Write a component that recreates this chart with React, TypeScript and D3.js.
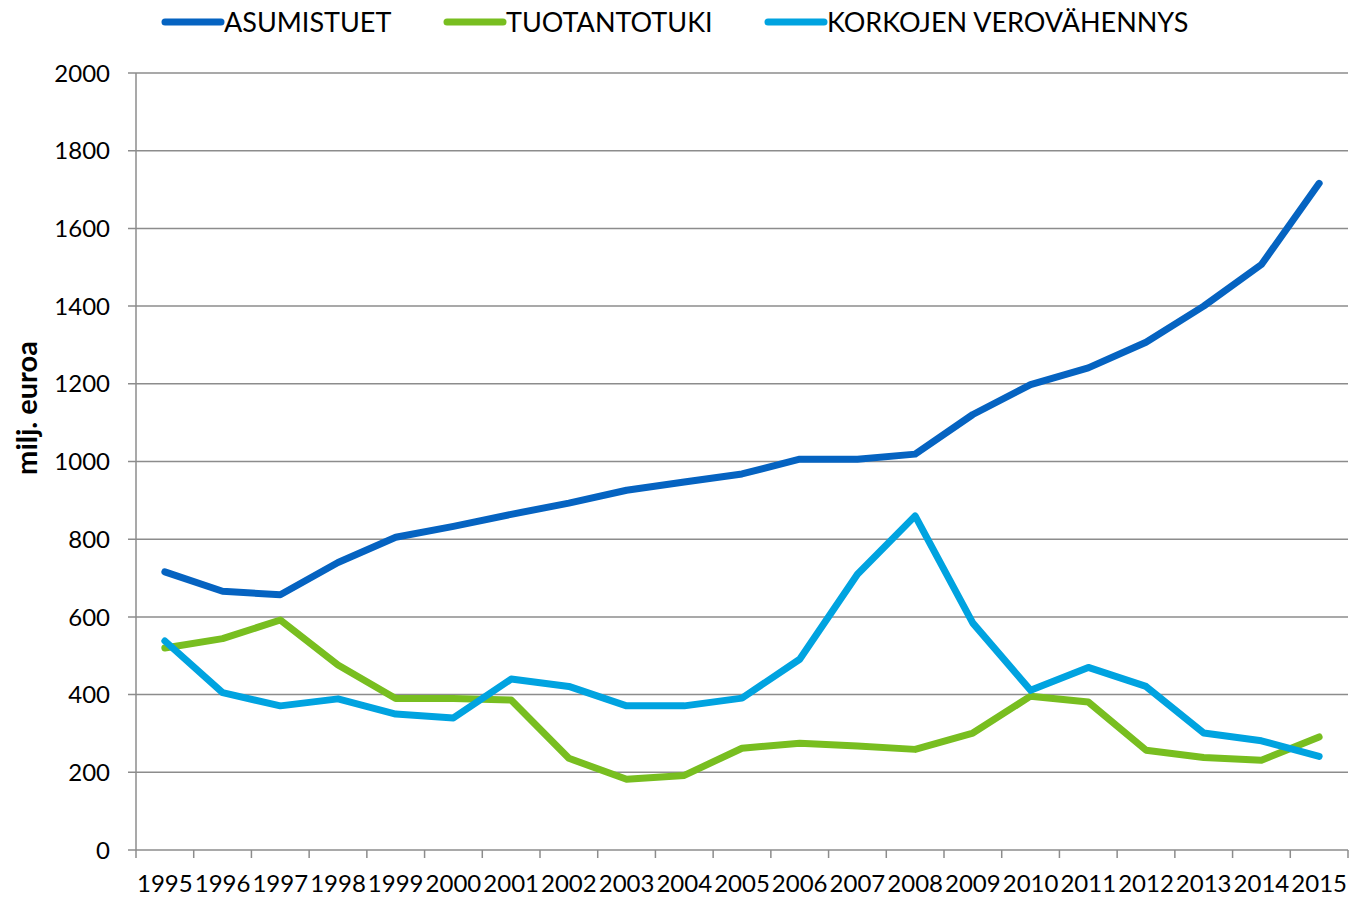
import React from 'react';
import * as d3 from 'd3';

const years = ['1995', '1996', '1997', '1998', '1999', '2000', '2001', '2002', '2003', '2004', '2005',
  '2006', '2007', '2008', '2009', '2010', '2011', '2012', '2013', '2014', '2015'];

const asumistuet = [716, 666, 657, 740, 805, 833, 864, 893, 926, 947, 968,
  1006, 1006, 1019, 1121, 1198, 1241, 1307, 1400, 1507, 1716];
const tuotantotuki = [520, 544, 592, 476, 390, 390, 386, 236, 182, 192, 262,
  275, 268, 259, 301, 396, 381, 257, 238, 231, 291];
const korkojenVerovahennys = [538, 405, 371, 389, 350, 340, 440, 421, 371, 371, 391,
  491, 710, 860, 584, 411, 470, 421, 301, 281, 241];

const yTicks = [0, 200, 400, 600, 800, 1000, 1200, 1400, 1600, 1800, 2000];

const series = [
  {name: 'ASUMISTUET', values: asumistuet, color: '#0563C1'},
  {name: 'TUOTANTOTUKI', values: tuotantotuki, color: '#78BE20'},
  {name: 'KORKOJEN VEROVÄHENNYS', values: korkojenVerovahennys, color: '#00A3E0'},
];

const legendX = [165, 447, 768];

export default function App() {
  const width = 1351, height = 898;
  const left = 136, right = 1348, top = 73, bottom = 850;

  const x = d3.scaleBand<string>().domain(years).range([left, right]);
  const y = d3.scaleLinear().domain([0, 2000]).range([bottom, top]);

  const line = d3.line<number>()
    .x((_, i) => (x(years[i]) as number) + x.bandwidth() / 2)
    .y(d => y(d));

  const font = 'Lato, "Open Sans", sans-serif';
  const grid = '#8c8c8c';

  return (
    <svg width={width} height={height} style={{position: 'absolute', left: 0, top: 0}}
         fontFamily={font}>
      <rect width={width} height={height} fill="white"/>
      {yTicks.map(t => (
        <g key={t}>
          <line x1={left - 8} x2={right} y1={y(t)} y2={y(t)} stroke={grid} strokeWidth={1.5}/>
          <text x={left - 26} y={y(t)} dy="0.36em" textAnchor="end" fontSize={24} fill="#000">{t}</text>
        </g>
      ))}
      <line x1={left} x2={left} y1={top} y2={bottom} stroke={grid} strokeWidth={1.5}/>
      {years.map((yr, i) => (
        <line key={'t' + yr} x1={left + i * x.step()} x2={left + i * x.step()} y1={bottom} y2={bottom + 8}
              stroke={grid} strokeWidth={1.5}/>
      ))}
      <line x1={right} x2={right} y1={bottom} y2={bottom + 8} stroke={grid} strokeWidth={1.5}/>
      {years.map(yr => (
        <text key={'l' + yr} x={(x(yr) as number) + x.bandwidth() / 2} y={892} textAnchor="middle"
              fontSize={24} fill="#000">{yr}</text>
      ))}
      <text transform={`translate(37,408) rotate(-90)`} textAnchor="middle"
            fontSize={29} fontWeight="bold" fill="#000">milj. euroa</text>
      {series.map(s => (
        <path key={s.name} d={line(s.values) as string} fill="none" stroke={s.color} strokeWidth={7}
              strokeLinejoin="round" strokeLinecap="round"/>
      ))}
      {series.map((s, i) => (
        <g key={'lg' + s.name}>
          <line x1={legendX[i]} x2={legendX[i] + 56} y1={22} y2={22} stroke={s.color} strokeWidth={7}
                strokeLinecap="round"/>
          <text x={legendX[i] + 59} y={22} dy="0.36em" fontSize={27} fill="#000">{s.name}</text>
        </g>
      ))}
    </svg>
  );
}
